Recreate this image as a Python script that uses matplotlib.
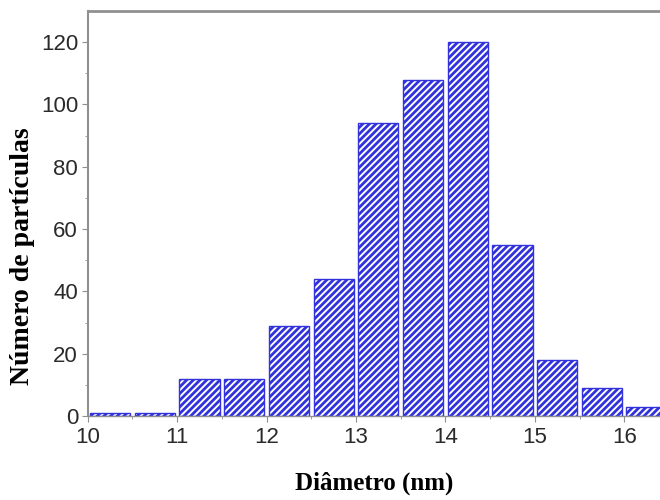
import numpy as np
import matplotlib.pyplot as plt

# histogram bins (left edge, nm) and counts
bin_left = [10.0, 10.5, 11.0, 11.5, 12.0, 12.5, 13.0, 13.5, 14.0, 14.5, 15.0, 15.5, 16.0]
counts = [1, 1, 12, 12, 29, 44, 94, 108, 120, 55, 18, 9, 3]
bin_width = 0.5

x_ticks = [10, 11, 12, 13, 14, 15, 16]
y_ticks = [0, 20, 40, 60, 80, 100, 120]

plt.rcParams['hatch.linewidth'] = 2.0

fig = plt.figure(figsize=(6.6, 5.0), dpi=100)
ax = fig.add_axes([0.133, 0.168, 0.867, 0.81])

blue = '#3232dc'
ax.bar(np.array(bin_left) + 0.025, counts, width=bin_width - 0.05, align='edge',
       facecolor='white', edgecolor=blue, hatch='/////', linewidth=1.0)

ax.set_xlim(10, 16.4)
ax.set_ylim(0, 130)
ax.set_xticks(x_ticks)
ax.set_yticks(y_ticks)
ax.set_xticks(np.arange(10.5, 16.4, 1.0), minor=True)
ax.set_yticks(np.arange(10, 130, 20), minor=True)

for s in ['left', 'top', 'bottom', 'right']:
    ax.spines[s].set_color('#909090')
ax.spines['top'].set_linewidth(2.0)
ax.spines['left'].set_linewidth(1.5)
ax.spines['bottom'].set_linewidth(1.0)
ax.spines['right'].set_visible(False)

ax.tick_params(which='major', direction='out', length=4, color='#909090',
               labelsize=16, labelcolor='#2a2a2a', pad=3)
ax.tick_params(axis='x', which='major', pad=4)
ax.tick_params(which='minor', direction='out', length=2.5, color='#909090')
for lab in ax.get_xticklabels() + ax.get_yticklabels():
    lab.set_family('Liberation Sans')

ax.set_xlabel('Diâmetro (nm)', family='Liberation Serif', fontweight='bold',
              fontsize=18, labelpad=17)
ax.set_ylabel('Número de partículas', family='Liberation Serif', fontweight='bold',
              fontsize=20)
ax.yaxis.set_label_coords(-0.093, 0.395)

fig.savefig('out.png', dpi=100)
